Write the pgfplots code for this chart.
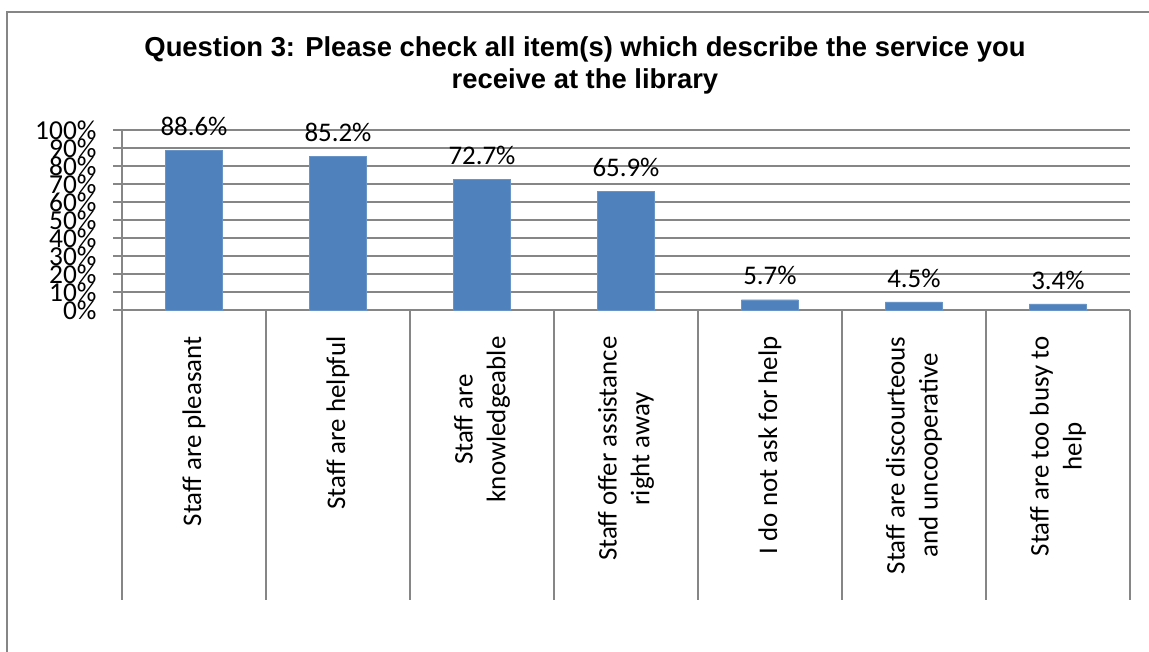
\documentclass[border=0pt]{standalone}
\usepackage{pgfplots}
\pgfplotsset{compat=1.18}
\usepackage{fontspec}
\setmainfont{Carlito}
\newfontfamily\titlefont{Liberation Sans}
\definecolor{barblue}{HTML}{4F81BD}
\definecolor{axisgray}{HTML}{868686}

\begin{document}
\begin{tikzpicture}[x=1bp,y=1bp]
\useasboundingbox (0,0) rectangle (1149,652);
% chart frame
\draw[axisgray, line width=1.2bp] (7,-10) -- (7,640) -- (1160,640);
% title
\node[font=\titlefont\fontsize{27.5}{32}\selectfont\bfseries, align=center] at (585,587)
  {Question 3: Please check all item(s) which describe the service you\\receive at the library};

\begin{axis}[
  at={(122bp,342bp)}, anchor=south west,
  scale only axis,
  width=1008bp, height=180bp,
  xmin=-0.5, xmax=6.5,
  ymin=0, ymax=100,
  axis x line*=bottom, axis y line*=left,
  axis line style={axisgray, line width=1.2bp, -},
  ybar, bar width=57bp,
  ytick={0,10,...,100},
  yticklabels={0\%,10\%,20\%,30\%,40\%,50\%,60\%,70\%,80\%,90\%,100\%},
  ymajorgrids,
  major grid style={axisgray, line width=1.2bp},
  tick align=outside,
  major tick length=9bp,
  ytick style={axisgray, line width=1.2bp},
  yticklabel style={font=\fontsize{27.5}{27.5}\selectfont, xshift=-13bp},
  xtick={0,...,6},
  xticklabels={Staff are pleasant, Staff are helpful, Staff are\\knowledgeable,
    Staff offer assistance\\right away, I do not ask for help,
    Staff are discourteous\\and uncooperative, Staff are too busy to\\help},
  xtick style={draw=none},
  xticklabel style={font=\fontsize{27}{33}\selectfont, rotate=90, anchor=east,
    align=center, xshift=-14bp},
  extra x ticks={-0.5,0.5,...,6.5},
  extra x tick labels={},
  extra x tick style={xtick style={draw=axisgray, line width=1.2bp},
    major tick length=290bp, tick align=outside},
  nodes near coords={\pgfmathprintnumber[fixed,precision=1,fixed zerofill,assume math mode=true]{\pgfplotspointmeta}\%},
  nodes near coords style={font=\fontsize{27}{27}\selectfont, black, yshift=11bp},
  clip=false,
]
\addplot[fill=barblue, draw=barblue!85!white] coordinates {
  (0,88.6) (1,85.2) (2,72.7) (3,65.9) (4,5.7) (5,4.5) (6,3.4)};
\end{axis}
\end{tikzpicture}
\end{document}
